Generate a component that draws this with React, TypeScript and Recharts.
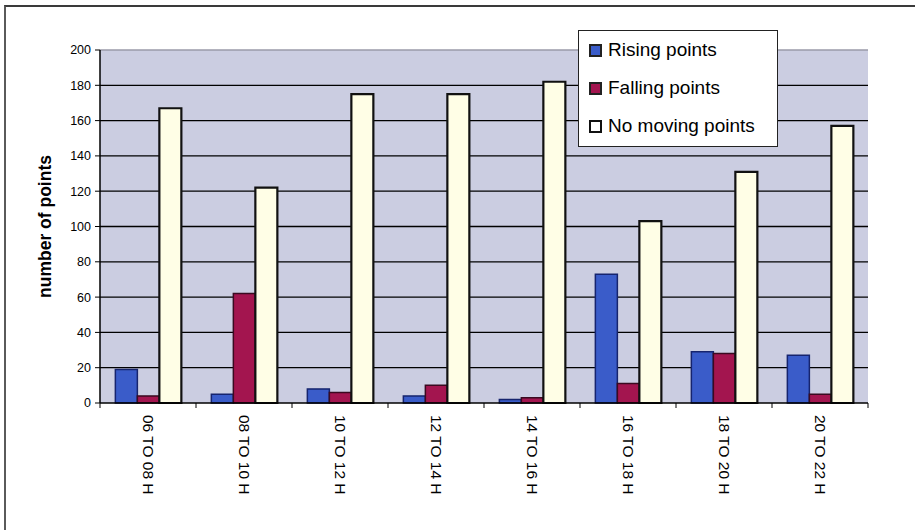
import React from 'react';
import {
  BarChart,
  Bar,
  XAxis,
  YAxis,
  CartesianGrid,
  Legend,
  ReferenceLine,
} from 'recharts';

const CATEGORIES = [
  '06 TO 08 H',
  '08 TO 10 H',
  '10 TO 12 H',
  '12 TO 14 H',
  '14 TO 16 H',
  '16 TO 18 H',
  '18 TO 20 H',
  '20 TO 22 H',
];
const RISING = [19, 5, 8, 4, 2, 73, 29, 27];
const FALLING = [4, 62, 6, 10, 3, 11, 28, 5];
const NO_MOVING = [167, 122, 175, 175, 182, 103, 131, 157];
const Y_TICKS = [0, 20, 40, 60, 80, 100, 120, 140, 160, 180, 200];
const GRID_VALUES = [20, 40, 60, 80, 100, 120, 140, 160, 180];

const data = CATEGORIES.map((name, i) => ({
  name,
  rising: RISING[i],
  falling: FALLING[i],
  still: NO_MOVING[i],
}));

const W = 915;
const H = 530;
const MARGIN = { top: 50, right: 47, bottom: 0, left: 0 };
const Y_AXIS_W = 100;
const BAND = (W - MARGIN.left - MARGIN.right - Y_AXIS_W) / CATEGORIES.length;

const FONT = '"Liberation Sans", Arial, sans-serif';

const series = [
  { key: 'rising', label: 'Rising points', fill: '#3a5cc9', stroke: '#16246e' },
  { key: 'falling', label: 'Falling points', fill: '#a3154f', stroke: '#3a0a20' },
  { key: 'still', label: 'No moving points', fill: '#fffee6', stroke: '#111' },
];

// category label plus a tick mark on the slot boundaries
function SlotTick(props: any) {
  const { x, y, payload, index } = props;
  const half = BAND / 2;
  return (
    <g>
      <line x1={x - half} x2={x - half} y1={y} y2={y + 5} stroke="#000" strokeWidth={1} />
      {index === CATEGORIES.length - 1 && (
        <line x1={x + half} x2={x + half} y1={y} y2={y + 5} stroke="#000" strokeWidth={1} />
      )}
      <text
        transform={`translate(${x},${y + 12}) rotate(90)`}
        textAnchor="start"
        dominantBaseline="central"
        fontSize={15.5}
        fontFamily={FONT}
        fill="#000"
      >
        {payload.value}
      </text>
    </g>
  );
}

function LegendBox() {
  return (
    <div
      style={{
        width: 198,
        height: 115,
        border: '1px solid #222',
        background: '#fff',
        fontFamily: FONT,
        fontSize: 19,
        color: '#000',
        boxSizing: 'content-box',
      }}
    >
      {series.map((s, i) => (
        <div
          key={s.key}
          style={{
            position: 'absolute',
            left: 11,
            top: 20 + i * 38 - 12,
            height: 24,
            display: 'flex',
            alignItems: 'center',
            whiteSpace: 'nowrap',
          }}
        >
          <span
            style={{
              display: 'inline-block',
              width: 9,
              height: 9,
              background: s.key === 'still' ? '#fff' : s.fill,
              border: `2px solid ${s.key === 'still' ? '#111' : '#222'}`,
              marginRight: 6,
            }}
          />
          {s.label}
        </div>
      ))}
    </div>
  );
}

export default function App() {
  return (
    <div
      style={{
        position: 'fixed',
        left: 0,
        top: 0,
        width: W,
        height: H,
        background: '#fff',
        overflow: 'hidden',
      }}
    >
      {/* frame: only its top and left edges fall inside the page */}
      <div
        style={{
          position: 'absolute',
          left: 4,
          top: 5,
          width: W + 20,
          height: H + 20,
          borderTop: '2px solid #3a3a3a',
          borderLeft: '2px solid #5a5a5a',
        }}
      />
      <div style={{ position: 'absolute', left: 0, top: 0 }}>
        <BarChart
          width={W}
          height={H}
          data={data}
          margin={MARGIN}
          barCategoryGap="16%"
          barGap={0}
        >
          <CartesianGrid
            vertical={false}
            fill="#cbcde1"
            stroke="#000"
            strokeWidth={1.3}
            horizontalValues={GRID_VALUES}
          />
          <ReferenceLine y={200} stroke="#9a9aa8" strokeWidth={1.5} />
          <XAxis
            dataKey="name"
            interval={0}
            height={H - 403}
            tickSize={0}
            tickMargin={0}
            tickLine={false}
            axisLine={{ stroke: '#000', strokeWidth: 1.5 }}
            tick={<SlotTick />}
          />
          <YAxis
            width={Y_AXIS_W}
            domain={[0, 200]}
            ticks={Y_TICKS}
            interval={0}
            tickSize={5}
            tickMargin={4}
            axisLine={{ stroke: '#000', strokeWidth: 1.5 }}
            tickLine={{ stroke: '#000' }}
            tick={{ fontSize: 12.5, fill: '#000', fontFamily: FONT }}
            label={{
              value: 'number of points',
              angle: -90,
              position: 'center',
              dx: -5,
              style: { fontSize: 17.5, fontWeight: 'bold', fill: '#000', fontFamily: FONT },
            }}
          />
          {series.map((s) => (
            <Bar
              key={s.key}
              dataKey={s.key}
              name={s.label}
              fill={s.fill}
              stroke={s.stroke}
              strokeWidth={s.key === 'still' ? 2.2 : 1.5}
              isAnimationActive={false}
            />
          ))}
          <Legend
            layout="vertical"
            align="center"
            verticalAlign="middle"
            content={<LegendBox />}
            wrapperStyle={{ left: 578, top: 30, width: 200, height: 117, position: 'absolute' }}
          />
        </BarChart>
      </div>
    </div>
  );
}
